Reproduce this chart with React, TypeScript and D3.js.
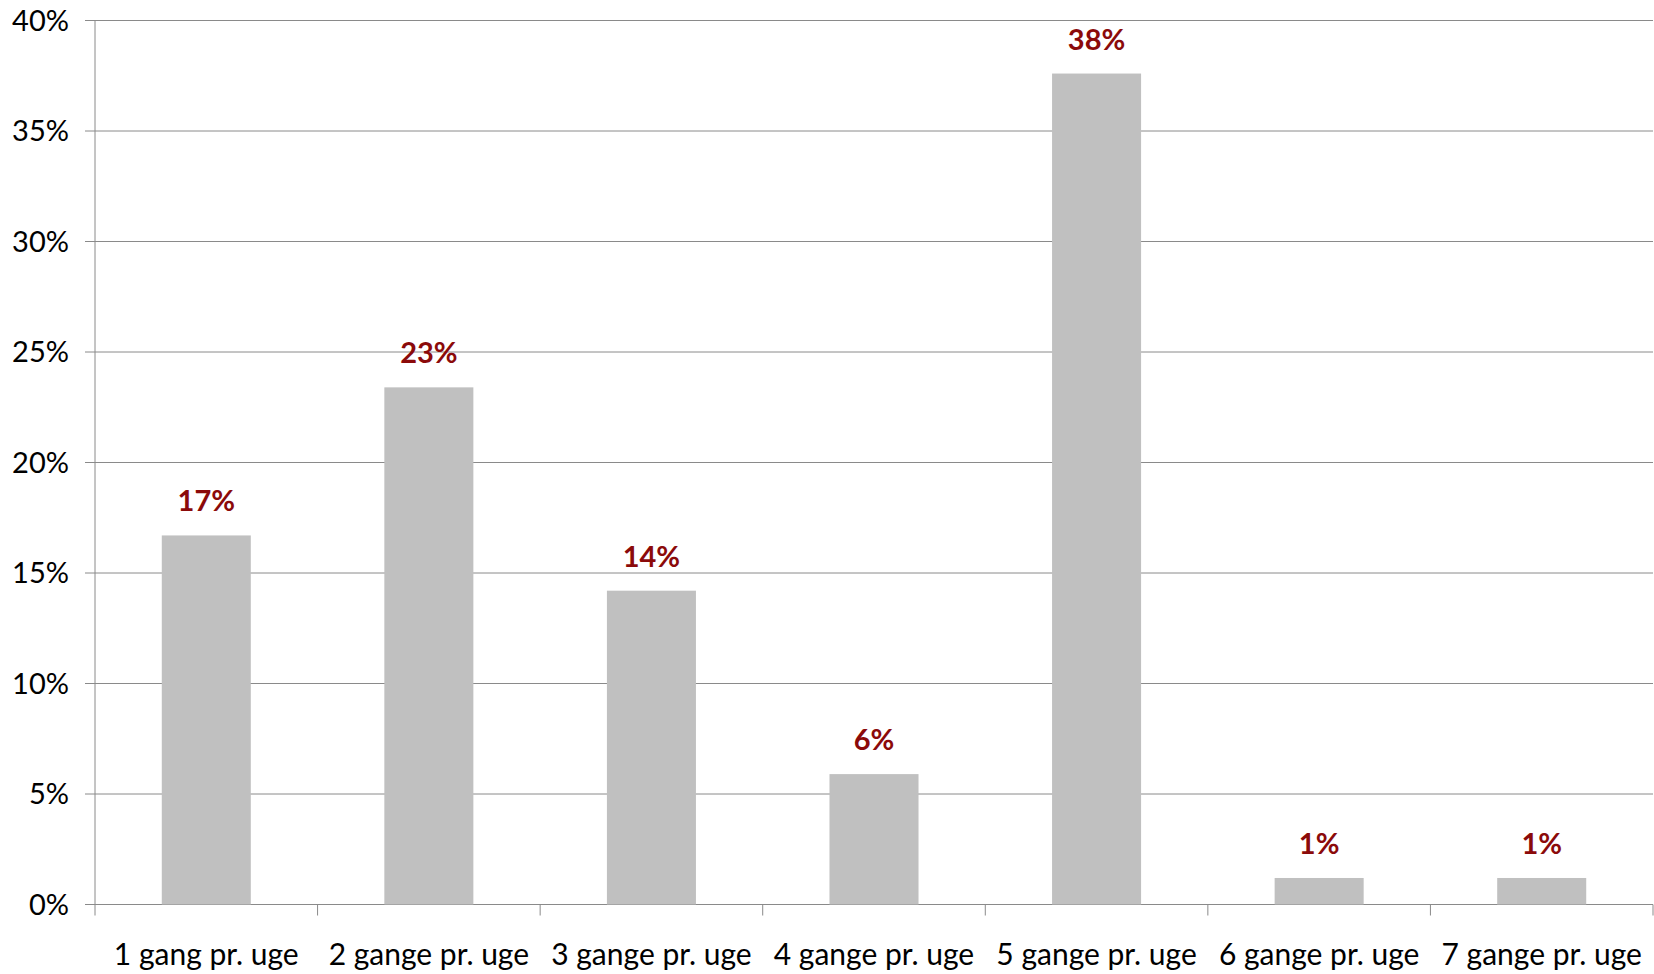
import React from "react";
import * as d3 from "d3";

const categories = [
  "1 gang pr. uge",
  "2 gange pr. uge",
  "3 gange pr. uge",
  "4 gange pr. uge",
  "5 gange pr. uge",
  "6 gange pr. uge",
  "7 gange pr. uge",
];
const values = [16.7, 23.4, 14.2, 5.9, 37.6, 1.2, 1.2];
const yTicks = [0, 5, 10, 15, 20, 25, 30, 35, 40];

const W = 1654;
const H = 974;
const M = { left: 95, right: 1653, top: 20.5, bottom: 904.5 };
const FONT = "Lato, 'Open Sans', sans-serif";

export default function App() {
  const x = d3
    .scaleBand<string>()
    .domain(categories)
    .range([M.left, M.right])
    .paddingInner(0.6)
    .paddingOuter(0.3);
  const xc = d3.scaleBand<string>().domain(categories).range([M.left, M.right]);
  const y = d3.scaleLinear().domain([0, 40]).range([M.bottom, M.top]);

  return (
    <svg
      width={W}
      height={H}
      style={{ position: "absolute", left: 0, top: 0, background: "#fff" }}
    >
      {yTicks.map((t) => (
        <g key={t}>
          <line
            x1={M.left - 10}
            x2={M.right}
            y1={y(t)}
            y2={y(t)}
            stroke="#8a8a8a"
            strokeWidth={1}
          />
          <text
            x={69}
            y={y(t)}
            dy="0.36em"
            textAnchor="end"
            fontFamily={FONT}
            fontSize={29}
            fill="#000"
          >
            {t}%
          </text>
        </g>
      ))}
      <line x1={M.left} x2={M.left} y1={M.top} y2={M.bottom + 11} stroke="#8a8a8a" />
      {categories.map((c, i) => (
        <line
          key={"t" + i}
          x1={(xc(c) as number) + xc.bandwidth()}
          x2={(xc(c) as number) + xc.bandwidth()}
          y1={M.bottom}
          y2={M.bottom + 11}
          stroke="#8a8a8a"
        />
      ))}
      {categories.map((c, i) => (
        <rect
          key={"b" + i}
          x={x(c)}
          y={y(values[i])}
          width={x.bandwidth()}
          height={y(0) - y(values[i])}
          fill="#c0c0c0"
        />
      ))}
      {categories.map((c, i) => (
        <text
          key={"l" + i}
          x={(x(c) as number) + x.bandwidth() / 2}
          y={y(values[i]) - 24}
          textAnchor="middle"
          fontFamily={FONT}
          fontWeight="bold"
          fontSize={29}
          fill="#8b0a0a"
        >
          {Math.round(values[i])}%
        </text>
      ))}
      {categories.map((c, i) => (
        <text
          key={"c" + i}
          x={(xc(c) as number) + xc.bandwidth() / 2}
          y={965}
          textAnchor="middle"
          fontFamily={FONT}
          fontSize={30}
          fill="#000"
        >
          {c}
        </text>
      ))}
    </svg>
  );
}
